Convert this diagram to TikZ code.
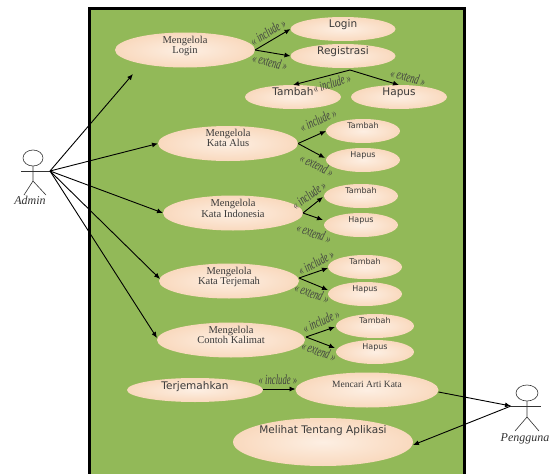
\documentclass[tikz,border=0pt]{standalone}
\usepackage{fontspec}
\setmainfont{Liberation Serif}
\newfontfamily\djv{DejaVu Sans}
\usetikzlibrary{shapes.geometric,arrows.meta,calc}
\definecolor{sysgreen}{HTML}{92B958}
\definecolor{peachout}{HTML}{F9D9BE}
\definecolor{peachin}{HTML}{FDEFE3}
\definecolor{inktext}{HTML}{3A3A3A}
\newcommand{\lift}[2]{\raisebox{#1}{\smash{\begin{tabular}{@{}c@{}}#2\end{tabular}}}}
\newcommand{\rl}[1]{\scalebox{0.62}[1]{#1}}
\tikzset{
  x=1pt,y=-1pt,
  uc/.style={ellipse,inner sep=0pt,outer sep=0pt,draw=none,inner color=peachin,outer color=peachout,text=inktext},
  ucbig/.style={uc,minimum width=140pt,minimum height=35pt,font=\fontsize{10.5}{11.5}\selectfont},
  ucsmall/.style={uc,minimum width=74pt,minimum height=24pt,font=\djv\fontsize{8}{9}\selectfont},
  ucwide/.style={uc,minimum width=105pt,minimum height=24pt,font=\djv\fontsize{10.5}{12}\selectfont},
  rel/.style={font=\itshape\fontsize{14}{14}\selectfont,text=black!75,inner sep=0pt},
  link/.style={draw=black,line width=0.9pt,-{Latex[length=6pt,width=5pt]}},
  actorline/.style={draw=black!80,line width=0.6pt},
  actorname/.style={font=\itshape\fontsize{12}{12}\selectfont,text=black!80,inner sep=0pt},
}
\begin{document}
\begin{tikzpicture}
\useasboundingbox (0,0) rectangle (558,474);
\fill[white] (0,0) rectangle (558,474);
\fill[sysgreen] (89,8) rectangle (464,474);
\draw[black,line width=3pt] (89,474) -- (89,8) -- (464,8) -- (464,474);

% use cases
\node[ucbig] (ml) at (185,50) {\lift{2pt}{Mengelola\\[-1pt]Login}};
\node[ucwide] (login) at (343,29) {\lift{3pt}{Login}};
\node[ucwide] (reg) at (343,56) {\lift{3pt}{Registrasi}};
\node[ucwide,minimum width=96pt] (t0) at (293,97) {\lift{3pt}{Tambah}};
\node[ucwide,minimum width=96pt] (h0) at (399,97) {\lift{3pt}{Hapus}};

\node[ucbig] (ma) at (228,143.5) {\lift{3pt}{Mengelola\\[-1pt]Kata Alus}};
\node[ucsmall] (t1) at (363,131) {\lift{4pt}{Tambah}};
\node[ucsmall] (h1) at (363,160) {\lift{4pt}{Hapus}};

\node[ucbig] (mi) at (233,213) {\lift{1pt}{Mengelola\\[-1pt]Kata Indonesia}};
\node[ucsmall] (t2) at (361,196) {\lift{4pt}{Tambah}};
\node[ucsmall] (h2) at (361,225) {\lift{4pt}{Hapus}};

\node[ucbig] (mt) at (229,281) {\lift{2pt}{Mengelola\\[-1pt]Kata Terjemah}};
\node[ucsmall] (t3) at (365,267) {\lift{4pt}{Tambah}};
\node[ucsmall] (h3) at (365,294) {\lift{4pt}{Hapus}};

\node[ucbig,minimum width=148pt] (mk) at (231,340) {\lift{2pt}{Mengelola\\[-1pt]Contoh Kalimat}};
\node[ucsmall,minimum width=78pt] (t4) at (375,326) {\lift{4pt}{Tambah}};
\node[ucsmall,minimum width=78pt] (h4) at (375,352) {\lift{4pt}{Hapus}};

\node[ucwide,minimum width=136pt] (tj) at (195,390) {\lift{1pt}{Terjemahkan}};
\node[ucbig,minimum width=143pt,font=\fontsize{9.5}{11}\selectfont] (ca) at (367,390) {\lift{5pt}{Mencari Arti Kata}};
\node[uc,minimum width=176pt,minimum height=48pt,font=\djv\fontsize{10.5}{12}\selectfont] (ta) at (323,442) {\lift{16pt}{Melihat Tentang Aplikasi}};

% actors
\draw[actorline] (33,158) ellipse (10 and 8);
\draw[actorline] (33,166) -- (33,181) (33,181) -- (24,195) (33,181) -- (46,195);
\draw[actorline] (21,171) -- (50,171);
\coordinate (adm) at (50,171);
\node[actorname] (admin) at (30,200) {Admin};

\draw[actorline] (527,393) ellipse (11 and 8);
\draw[actorline] (527,401) -- (527,417) (527,417) -- (515,431) (527,417) -- (539,431);
\draw[actorline] (511,406) -- (541,406);
\coordinate (png) at (511,406);
\node[actorname] (pengguna) at (525,439) {Pengguna};

% connectors
\coordinate (mlin) at (133,74);
\draw[link] (adm) -- (mlin);
\draw[link] (adm) -- (ma.west);
\draw[link] (adm) -- (mi.west);
\draw[link] (adm) -- ($(mt.west)+(1,-2)$);
\draw[link] (adm) -- ($(mk.west)+(0,-2)$);
\draw[link] (ca.east) ++(0,2) -- (png);
\draw[link] (png) -- ($(ta.east)+(0,3)$);

\draw[link] (ml.east) -- (login.west);
\draw[link] (ml.east) -- (reg.west);
\coordinate (regb) at (350,70);
\draw[link] (regb) -- (t0.north);
\draw[link] (regb) -- (h0.north);
\draw[link] (ma.east) -- (t1.west);
\draw[link] (ma.east) -- ($(h1.west)+(-1,-2)$);
\draw[link] (mi.east) -- ($(t2.west)+(-1,1)$);
\draw[link] (mi.east) -- ($(h2.west)+(-1,-5)$);
\draw[link] ($(mt.east)+(0,-3)$) -- ($(t3.west)+(0,1)$);
\draw[link] ($(mt.east)+(0,-3)$) -- ($(h3.west)+(0,-4)$);
\draw[link] ($(mk.east)+(1,-3)$) -- ($(t4.west)+(-1,1)$);
\draw[link] ($(mk.east)+(1,-3)$) -- ($(h4.west)+(-1,-4)$);
\draw[link] ($(tj.east)+(0,-1)$) -- ($(ca.west)+(0,-1)$);

% relation labels
\node[rel,rotate=31] (l1) at (268,32) {\rl{<< include >>}};
\node[rel,rotate=-14] (l2) at (270,62) {\rl{<< extend >>}};
\node[rel,rotate=17] (l3) at (332,83) {\rl{<< include >>}};
\node[rel,rotate=-15] (l4) at (408,77) {\rl{<< extend >>}};
\node[rel,rotate=25] (l5) at (318,120) {\rl{<< include >>}};
\node[rel,rotate=-27] (l6) at (317,165) {\rl{<< extend >>}};
\node[rel,rotate=36] (l7) at (309,195) {\rl{<< include >>}};
\node[rel,rotate=-20] (l8) at (314,233) {\rl{<< extend >>}};
\node[rel,rotate=28] (l9) at (316,262) {\rl{<< include >>}};
\node[rel,rotate=-20] (l10) at (312,293) {\rl{<< extend >>}};
\node[rel,rotate=24] (l11) at (321,321) {\rl{<< include >>}};
\node[rel,rotate=-21] (l12) at (319,351) {\rl{<< extend >>}};
\node[rel] (l13) at (278,380) {\rl{<< include >>}};
\end{tikzpicture}
\end{document}
